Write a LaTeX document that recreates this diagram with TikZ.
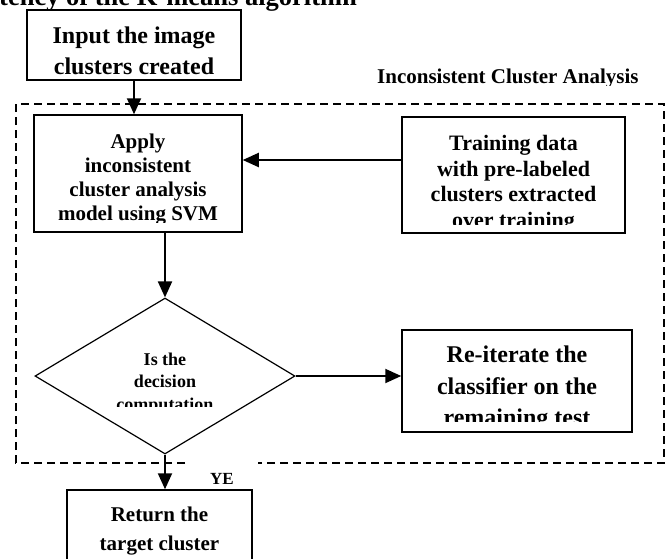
\documentclass[tikz,border=0pt]{standalone}
\usepackage{fontspec}
\setmainfont{Liberation Serif}
\usetikzlibrary{positioning, arrows.meta, shapes.geometric, calc}

\newcommand{\boxfont}[2]{\fontsize{#1}{#2}\selectfont\bfseries}

\tikzset{
    box/.style={draw, line width=1.5pt, inner sep=0pt},
    boxtext/.style={anchor=north, align=center, inner sep=0pt},
    flow/.style={line width=2pt, -{Triangle[width=14pt, length=16pt]}},
    frame/.style={line width=1.4pt, dash pattern=on 8pt off 5pt},
}

\begin{document}
\begin{tikzpicture}[x=1pt, y=-1pt]
    \useasboundingbox (0,0) rectangle (672,558);
    \clip (0,0) rectangle (672,558);

    % title, cut off at the top
    \node[anchor=base west, inner sep=0pt, font=\boxfont{26.5}{30}] (title) at (-1,5) {tency of the K-means algorithm};

    % dashed frame, open below
    \coordinate (fnw) at (16,104);
    \coordinate (fse) at (664,463);
    \draw[frame] (185,463) -- (fnw |- fse) -- (fnw) -- (fse |- fnw) -- (fse) -- (258,463);

    \begin{scope}
        \clip (370,60) rectangle (660,85);
        \node[anchor=base west, inner sep=0pt, font=\boxfont{21}{24}] (frametitle) at (377,83.3) {Inconsistent Cluster Analysis};
    \end{scope}

    % boxes
    \node[box, minimum width=214pt, minimum height=70pt] (input) at (134,45) {};
    \node[box, minimum width=208pt, minimum height=117pt] (apply) at (138,173.5) {};
    \node[box, minimum width=223pt, minimum height=116pt] (train) at (513.5,175) {};
    \node[draw, diamond, line width=1.2pt, inner sep=0pt, aspect=1.67,
          minimum width=260pt, minimum height=156pt] (dec) at (165,376) {};
    \node[box, minimum width=230pt, minimum height=102pt] (reit) at (517,381) {};
    \node[box, minimum width=185pt, minimum height=90pt] (ret) at (159.5,535) {};

    % texts
    \node[boxtext, font=\boxfont{24}{31}] (inputtxt) at (134,26.5) {Input the image\\clusters created};

    \begin{scope}
        \clip (apply.north west) rectangle ($(apply.south east)+(0,-10)$);
        \node[boxtext, font=\boxfont{21}{24}] (applytxt) at (138,133.5)
            {Apply\\inconsistent\\cluster analysis\\model using SVM};
    \end{scope}

    \begin{scope}
        \clip (train.north west) rectangle ($(train.south east)+(0,-9)$);
        \node[boxtext, font=\boxfont{22}{25.5}] (traintxt) at (513.5,135.5)
            {Training data\\with pre-labeled\\clusters extracted\\over training};
    \end{scope}

    \begin{scope}
        \clip (dec.north west) rectangle (dec.east |- 0,406);
        \node[boxtext, font=\boxfont{18}{22.5}] (dectxt) at (165,352.6)
            {Is the\\decision\\computation};
    \end{scope}

    \begin{scope}
        \clip (reit.north west) rectangle ($(reit.south east)+(0,-11)$);
        \node[boxtext, font=\boxfont{24}{31.5}] (reittxt) at (517,346)
            {Re-iterate the\\classifier on the\\remaining test};
    \end{scope}

    \node[boxtext, font=\boxfont{21}{29}] (rettxt) at (159.5,507) {Return the\\target cluster};

    \node[anchor=base west, inner sep=0pt, font=\boxfont{17}{20}] (yes) at (210,484) {YE};

    % connectors
    \coordinate (tin) at ([yshift=15pt]train.west);
    \draw[flow] (input.south) -- (input.south |- apply.north);
    \draw[flow] (tin) -- (tin -| apply.east);
    \draw[flow] (apply.south -| dec.north) -- (dec.north);
    \draw[flow] (dec.east) -- (dec.east -| reit.west);
    \draw[flow] (dec.south) -- (dec.south |- ret.north);
\end{tikzpicture}
\end{document}
